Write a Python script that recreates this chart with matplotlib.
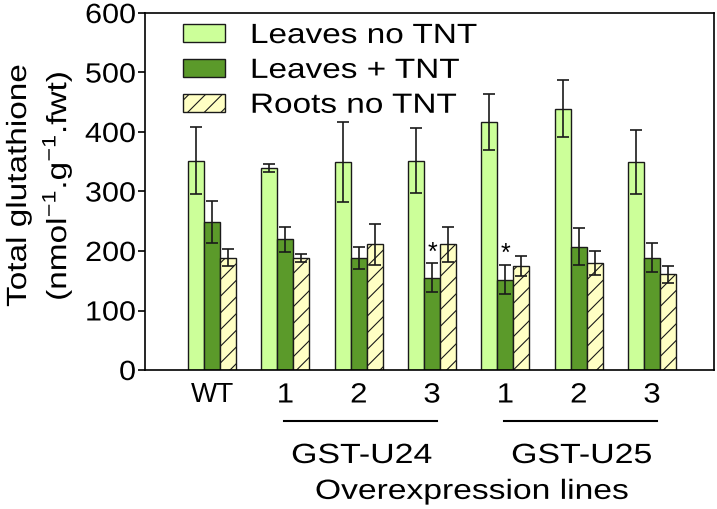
import matplotlib
matplotlib.use("Agg")
import matplotlib.pyplot as plt
import matplotlib.transforms as mtransforms
from matplotlib.patheffects import AbstractPathEffect
import numpy as np

plt.rcParams['font.family'] = ['Liberation Sans', 'DejaVu Sans']
plt.rcParams['hatch.linewidth'] = 0.8
plt.rcParams['mathtext.fontset'] = 'custom'
plt.rcParams['mathtext.rm'] = 'Liberation Sans'

categories = ["WT", "1", "2", "3", "1", "2", "3"]
leaves_no_tnt = [352, 339, 349, 352, 417, 439, 350]
leaves_no_tnt_err = [56, 7, 67, 55, 47, 48, 54]
leaves_tnt = [249, 220, 188, 155, 152, 207, 189]
leaves_tnt_err = [35, 21, 19, 24, 25, 31, 25]
roots_no_tnt = [189, 188, 211, 211, 175, 180, 161]
roots_no_tnt_err = [14, 7, 34, 30, 17, 20, 14]
significant = [False, False, False, True, True, False, False]  # Leaves + TNT
series_names = ["Leaves no TNT", "Leaves + TNT", "Roots no TNT"]
group_names = ["GST-U24", "GST-U25"]
group_spans = [(1, 3), (4, 6)]
y_ticks = [0, 100, 200, 300, 400, 500, 600]

light = "#ccff99"
dark = "#5b9a2a"
yellow = "#ffffc4"
edge = "#1a1a1a"
FS = 20


class Stretch(AbstractPathEffect):
    """Stretch text horizontally (along its baseline) about an anchor."""
    def __init__(self, sx, anchor='center'):
        super().__init__()
        self.sx = sx
        self.anchor = anchor

    def draw_path(self, renderer, gc, tpath, affine, rgbFace=None):
        v = tpath.vertices
        if len(v) == 0:
            return
        xmin, xmax = v[:, 0].min(), v[:, 0].max()
        cx = {'left': xmin, 'right': xmax, 'center': 0.5 * (xmin + xmax)}[self.anchor]
        new = mtransforms.Affine2D().translate(-cx, 0).scale(self.sx, 1).translate(cx, 0) + affine
        renderer.draw_path(gc, tpath, new, rgbFace)


fig = plt.figure(figsize=(7.17, 5.09), dpi=100)
ax = fig.add_axes([145/717, 1-370/509, (714-145)/717, 357/509])

x = np.arange(len(categories))
w = 0.218
ekw = dict(ecolor="#1a1a1a", elinewidth=1.2, capsize=4.2, capthick=1.2)
ax.bar(x - w, leaves_no_tnt, w, yerr=leaves_no_tnt_err, color=light,
       edgecolor=edge, linewidth=1.0, label=series_names[0], error_kw=ekw)
ax.bar(x, leaves_tnt, w, yerr=leaves_tnt_err, color=dark,
       edgecolor=edge, linewidth=1.0, label=series_names[1], error_kw=ekw)
ax.bar(x + w, roots_no_tnt, w, yerr=roots_no_tnt_err, color=yellow,
       edgecolor=edge, linewidth=1.0, hatch='//', label=series_names[2], error_kw=ekw)

for i, s in enumerate(significant):
    if s:
        ax.text(x[i], leaves_tnt[i] + leaves_tnt_err[i] + 18, "*",
                ha='center', va='center', fontsize=18)

ax.set_xlim(-0.914, len(categories) - 1 + 0.846)
ax.set_ylim(0, 600)
ax.set_yticks(y_ticks)
ax.set_yticklabels([str(t) for t in y_ticks], fontsize=FS)
ax.set_xticks(x)
ax.set_xticklabels(categories, fontsize=FS)
ax.tick_params(axis='x', length=0, pad=9)
ax.tick_params(axis='y', length=5, width=1.2, pad=1.5)
for sp in ax.spines.values():
    sp.set_linewidth(1.2)
for t in ax.get_yticklabels():
    t.set_path_effects([Stretch(1.1, 'right')])
for t in ax.get_xticklabels():
    if t.get_text() != "WT":
        t.set_path_effects([Stretch(1.12, 'center')])

trans = mtransforms.blended_transform_factory(ax.transData, ax.transAxes)
for (a, b), name in zip(group_spans, group_names):
    ax.plot([a - 0.02, b + 0.07], [-0.143, -0.143], color='black', lw=1.5,
            transform=trans, clip_on=False)
    ax.text((a + b) / 2 + 0.04, -0.2605, name, transform=trans, ha='center',
            va='baseline', fontsize=FS, path_effects=[Stretch(1.22, 'center')])
ax.text((group_spans[0][0] + group_spans[1][1]) / 2 + 0.04, -0.361,
        "Overexpression lines", transform=trans, ha='center', va='baseline',
        fontsize=FS, path_effects=[Stretch(1.21, 'center')])

fig.text(19/717, 1-186/509, "Total glutathione", rotation=90, ha='center',
         va='center', fontsize=FS, path_effects=[Stretch(1.2, 'center')])
fig.text(57/717, 1-186/509, r"(nmol$^{\mathregular{-1}}$.g$^{\mathregular{-1}}$.fwt)",
         rotation=90, ha='center', va='center', fontsize=FS,
         path_effects=[Stretch(1.2, 'center')])

leg = ax.legend(loc='upper left', bbox_to_anchor=((183-145)/569, 0.972), frameon=False,
                fontsize=FS, handlelength=1.51, handleheight=0.62,
                handletextpad=0.9, labelspacing=0.32, borderaxespad=0, borderpad=0)
for t in leg.get_texts():
    t.set_path_effects([Stretch(1.2, 'left')])

fig.savefig("out.png", dpi=100)
